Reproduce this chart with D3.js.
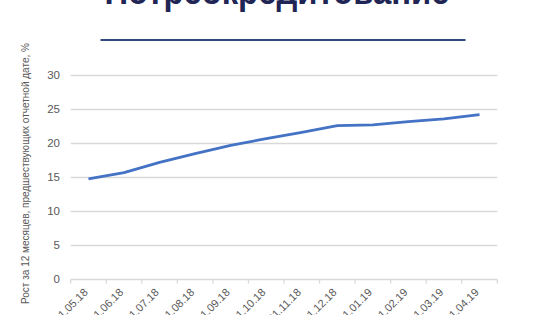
<!DOCTYPE html>
<html>
<head>
<meta charset="utf-8">
<script src="https://cdn.jsdelivr.net/npm/d3@7"></script>
<style>
  body { margin: 0; background: #fff; }
  svg { display: block; font-family: "Liberation Sans", Arial, sans-serif; }
</style>
</head>
<body>
<div class="wrapper"></div>
<script>
var dates = ["01.05.18", "01.06.18", "01.07.18", "01.08.18", "01.09.18", "01.10.18",
  "01.11.18", "01.12.18", "01.01.19", "01.02.19", "01.03.19", "01.04.19"];
var growth = [14.7, 15.6, 17.1, 18.4, 19.6, 20.6, 21.5, 22.5, 22.6, 23.1, 23.5, 24.1];
var yTicks = [0, 5, 10, 15, 20, 25, 30];
var titleText = "Потребкредитование";
var yLabel = "Рост за 12 месяцев, предшествующих отчетной дате, %";

var width = 560, height = 315;
var textColor = "#595959", gridColor = "#d9d9d9";

var svg = d3.select(".wrapper").append("svg")
  .attr("width", width)
  .attr("height", height);

// title (mostly cut off above the frame) and its underline
svg.append("text")
  .attr("x", 277)
  .attr("y", 4)
  .attr("text-anchor", "middle")
  .attr("textLength", 345)
  .attr("lengthAdjust", "spacingAndGlyphs")
  .style("font-size", "36px")
  .style("font-weight", "bold")
  .style("fill", "#1f2656")
  .text(titleText);

svg.append("line")
  .attr("x1", 100.5).attr("x2", 465.5)
  .attr("y1", 40).attr("y2", 40)
  .style("stroke", "#2f4b7c")
  .style("stroke-width", 2);

var x = d3.scaleBand()
  .domain(dates)
  .range([70.7, 497.3]);

var y = d3.scaleLinear()
  .domain([0, 30])
  .range([279, 74.5]);

// gridlines
svg.append("g")
  .selectAll("line")
  .data(yTicks.filter(d => d > 0))
  .join("line")
  .attr("x1", 70.7).attr("x2", 497.3)
  .attr("y1", d => Math.round(y(d)) + 0.5)
  .attr("y2", d => Math.round(y(d)) + 0.5)
  .style("stroke", gridColor)
  .style("stroke-width", 1.3);

// y tick labels
svg.append("g")
  .selectAll("text")
  .data(yTicks)
  .join("text")
  .attr("x", 60)
  .attr("y", d => y(d) + 4)
  .attr("text-anchor", "end")
  .style("font-size", "11.5px")
  .style("fill", textColor)
  .text(d => d);

// x axis with ticks between categories
var xAxis = svg.append("g")
  .attr("transform", "translate(0," + (Math.round(y(0)) + 0.5) + ")");

xAxis.append("line")
  .attr("x1", 70.7).attr("x2", 497.3)
  .style("stroke", gridColor)
  .style("stroke-width", 1.3);

xAxis.selectAll(".tick")
  .data(dates.concat(["end"]))
  .join("line")
  .attr("class", "tick")
  .attr("x1", (d, i) => 70.7 + i * x.step())
  .attr("x2", (d, i) => 70.7 + i * x.step())
  .attr("y1", 0).attr("y2", 4)
  .style("stroke", gridColor)
  .style("stroke-width", 1.3);

xAxis.selectAll("text")
  .data(dates)
  .join("text")
  .attr("transform", d => "translate(" + (x(d) + x.bandwidth() / 2) + ",13.5) rotate(-45)")
  .attr("text-anchor", "end")
  .style("font-size", "11px")
  .style("fill", textColor)
  .text(d => d);

// y axis title
svg.append("text")
  .attr("transform", "translate(29,173.5) rotate(-90)")
  .attr("text-anchor", "middle")
  .attr("textLength", 261)
  .attr("lengthAdjust", "spacingAndGlyphs")
  .style("font-size", "11.5px")
  .style("fill", textColor)
  .text(yLabel);

// the series
var line = d3.line()
  .x((d, i) => x(dates[i]) + x.bandwidth() / 2)
  .y(d => y(d));

svg.append("path")
  .datum(growth)
  .attr("d", line)
  .style("fill", "none")
  .style("stroke", "#4472c4")
  .style("stroke-width", 2.75)
  .style("stroke-linejoin", "round");
</script>
</body>
</html>
